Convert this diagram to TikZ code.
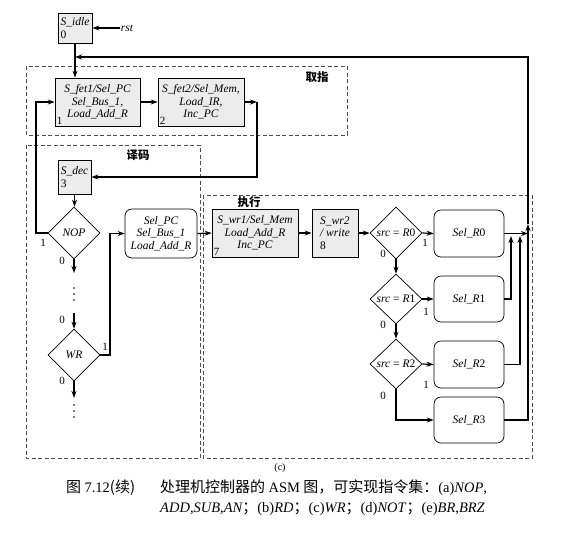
\documentclass[tikz,border=0pt]{standalone}
\usepackage{fontspec}
\setmainfont{Liberation Serif}
\newfontfamily\cjk{Noto Sans CJK SC}
\newfontfamily\serifl{Liberation Serif}
\usetikzlibrary{arrows.meta,shapes.geometric}
\begin{document}
\begin{tikzpicture}[x=1pt,y=1pt,
 every node/.style={font=\fontsize{11.5}{12.5}\selectfont\itshape},
 state/.style={draw, fill=gray!15, line width=0.7pt, inner sep=1pt, align=center},
 cond/.style={draw, line width=0.7pt, rounded corners=7pt, align=center, inner sep=1pt},
 dia/.style={draw, diamond, line width=0.7pt, inner sep=0pt, minimum width=52pt, minimum height=52pt},
 arr/.style={-{Stealth[length=7pt,width=5pt]}, line width=1.2pt},
 region/.style={draw=black!70, dash pattern=on 4pt off 2.5pt, line width=0.8pt},
 num/.style={font=\fontsize{11}{12}\selectfont\upshape, inner sep=0pt},
 zh/.style={font=\cjk\bfseries\fontsize{11.5}{12}\selectfont, inner sep=0pt},
 captext/.style={font=\cjk\fontsize{15}{17}\selectfont, inner sep=0pt, anchor=west}
]
\useasboundingbox (0,0) rectangle (575,-536);

% regions
\draw[region] (26,-66) rectangle (347,-135);
\draw[region] (26,-145) rectangle (200,-458);
\draw[region] (203,-195) rectangle (532,-458);
\node[zh] (zfetch) at (317,-77) {取指};
\node[zh] (zdec) at (138,-155) {译码};
\node[zh] (zexe) at (249,-202) {执行};

% states
\node[state, minimum width=34pt, minimum height=30pt, align=left] (idle) at (75,-28) {S\_idle\\\upshape 0};
\node[inner sep=1pt] (rst) at (127,-28) {rst};
\node[state, minimum width=85pt, minimum height=48pt,
  label={[num,anchor=south west,inner sep=2pt]south west:1}] (fet1) at (97.5,-102) {S\_fet1/Sel\_PC\\Sel\_Bus\_1,\\Load\_Add\_R};
\node[state, minimum width=86pt, minimum height=48pt,
  label={[num,anchor=south west,inner sep=2pt]south west:2}] (fet2) at (201,-102) {S\_fet2/Sel\_Mem,\\Load\_IR,\\Inc\_PC};
\node[state, minimum width=33pt, minimum height=34pt, align=left] (dec) at (74.5,-177) {S\_dec\\\upshape 3};
\node[dia] (nop) at (74,-233) {\makebox[0pt]{NOP}};
\node[dia] (wr) at (74,-355) {\makebox[0pt]{WR}};
\node[cond, minimum width=72pt, minimum height=49pt] (selpc) at (161,-233.5) {Sel\_PC\\Sel\_Bus\_1\\Load\_Add\_R};
\node[state, minimum width=86pt, minimum height=48pt,
  label={[num,anchor=south west,inner sep=2pt]south west:7}] (wr1) at (255,-233) {S\_wr1/Sel\_Mem\\Load\_Add\_R\\Inc\_PC};
\node[state, minimum width=46pt, minimum height=48pt, align=left] (wr2) at (335,-233) {S\_wr2\\/ write\\\upshape 8};
\node[dia] (d0) at (396,-233) {\makebox[0pt]{src {\upshape =} R{\upshape 0}}};
\node[dia, minimum height=50pt] (d1) at (396,-299) {\makebox[0pt]{src {\upshape =} R{\upshape 1}}};
\node[dia, minimum height=50pt] (d2) at (396,-364) {\makebox[0pt]{src {\upshape =} R{\upshape 2}}};
\node[cond, minimum width=70pt, minimum height=47pt] (r0) at (469,-233.5) {Sel\_R{\upshape 0}};
\node[cond, minimum width=70pt, minimum height=46pt] (r1) at (469,-299) {Sel\_R{\upshape 1}};
\node[cond, minimum width=70pt, minimum height=47pt] (r2) at (469,-364.5) {Sel\_R{\upshape 2}};
\node[cond, minimum width=70pt, minimum height=46pt] (r3) at (469,-420) {Sel\_R{\upshape 3}};

% dots (drawn as small marks)
\foreach \yy in {-288,-294,-300,-405,-411,-417} \fill (74,\yy) circle (0.8pt);

% coordinates
\coordinate (top) at (528,-57);
\coordinate (up) at (528,-224);
\coordinate (j1) at (511,-236);
\coordinate (j2) at (520,-236);
\coordinate (c1) at (257,-102);
\coordinate (c2) at (36,-233);
\coordinate (c3) at (74,-273);
\coordinate (c4) at (74,-313);
\coordinate (c5) at (74,-398);
\coordinate (c6) at (110,-355);

% connectors
\draw[arr] (rst.west) -- (idle.east);
\draw[arr] (idle.south) -- (idle.south |- fet1.north);
\draw[arr] (r3.east) -- (r3.east -| up) -- (up);
\draw[arr] (up) -- (top) -- (idle.south |- top);
\draw[arr] (r0.east) -- (r0.east -| up);
\draw[arr] (r1.east) -| (j1);
\draw[arr] (r2.east) -| (j2);
\draw[arr] (fet1.east) -- (fet2.west);
\draw[arr] (fet2.east) -- (c1);
\draw[arr] (c1) |- (dec.east);
\draw[arr] (dec.south) -- (dec.south |- nop.north);
\draw[arr] (nop.west) -- (c2) |- (fet1.west);
\draw[arr] (nop.south) -- (c3);
\draw[arr] (c4) -- (wr.north);
\draw[arr] (wr.east) -- (c6) |- (selpc.west);
\draw[arr] (wr.south) -- (c5);
\draw[arr] (selpc.east) -- (wr1.west);
\draw[arr] (wr1.east) -- (wr2.west);
\draw[arr] (wr2.east) -- (d0.west);
\draw[arr] (d0.east) -- (r0.west);
\draw[arr] (d0.south) -- (d1.north);
\draw[arr] (d1.east) -- (r1.west);
\draw[arr] (d1.south) -- (d2.north);
\draw[arr] (d2.east) -- (r2.west);
\draw[arr] (d2.south) |- (r3.west);

% branch labels
\node[num] (n1) at (43,-243) {1};
\node[num] (n2) at (62,-261) {0};
\node[num] (n3) at (62,-320) {0};
\node[num] (n4) at (105,-347) {1};
\node[num] (n5) at (62,-381) {0};
\node[num] (n6) at (425,-243) {1};
\node[num] (n7) at (383,-254) {0};
\node[num] (n8) at (426,-312) {1};
\node[num] (n9) at (383,-325) {0};
\node[num] (n10) at (426,-385) {1};
\node[num] (n11) at (383,-396) {0};

% caption
\node[font=\serifl\fontsize{10}{12}\selectfont, inner sep=0pt] (sub) at (280,-468) {(c)};
\node[captext] (cap1a) at (66,-488) {图 {\serifl\fontsize{14.5}{17}\selectfont 7.12}(续)};
\node[captext] (cap1b) at (160,-488) {处理机控制器的 {\serifl\fontsize{14.5}{17}\selectfont ASM} 图，可实现指令集：{\serifl\fontsize{14.5}{17}\selectfont(a)\textit{NOP},}};
\node[captext] (cap2) at (160,-509) {{\serifl\fontsize{14.5}{17}\selectfont\itshape ADD{\upshape ,}SUB{\upshape ,}AN}；{\serifl\fontsize{14.5}{17}\selectfont(b)\textit{RD}}；{\serifl\fontsize{14.5}{17}\selectfont(c)\textit{WR}}；{\serifl\fontsize{14.5}{17}\selectfont(d)\textit{NOT}}；{\serifl\fontsize{14.5}{17}\selectfont(e)\textit{BR},\textit{BRZ}}};
\end{tikzpicture}
\end{document}
